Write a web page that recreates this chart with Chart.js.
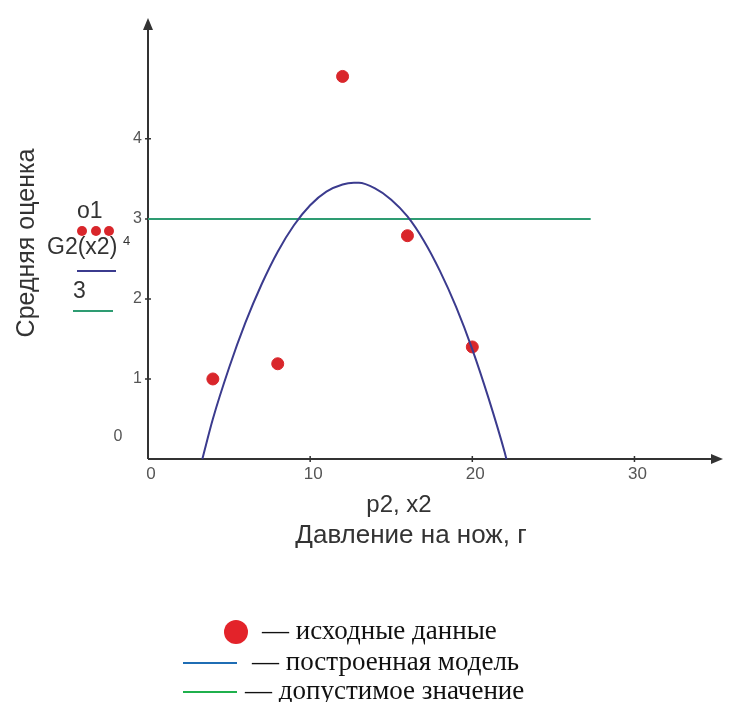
<!DOCTYPE html>
<html lang="ru">
<head>
<meta charset="utf-8">
<script src="https://cdn.jsdelivr.net/npm/chart.js@4.4.1/dist/chart.umd.min.js"></script>
<style>
  html, body { margin: 0; padding: 0; background: #fff; }
  #wrap { position: relative; width: 730px; height: 702px; }
</style>
</head>
<body>
<div id="wrap"><canvas id="chart" width="730" height="702"></canvas></div>
<script>
// исходные данные (o1)
const pointX = [4, 8, 12, 16, 20];
const pointY = [1.0, 1.19, 4.78, 2.79, 1.4];

const modelX = [3.35, 4, 5, 6, 7, 8, 9, 10, 11, 12, 12.7, 13, 14, 15, 16, 17, 18, 19, 20, 21, 22, 22.1];
const modelY = [0, 0.50, 1.14, 1.70, 2.18, 2.59, 2.92, 3.17, 3.34, 3.43, 3.45, 3.45, 3.38, 3.24, 3.03, 2.73, 2.35, 1.90, 1.37, 0.76, 0.08, 0];

// допустимое значение
const limitX = [0, 27.3];
const limitY = [3, 3];

// подписи осей
const xTicks = [0, 10, 20, 30];
const yTicks = [1, 2, 3, 4];
const yTitle = 'Средняя оценка';
const xTitle = ['p2, x2', 'Давление на нож, г'];
const legendLabels = ['— исходные данные', '— построенная модель', '— допустимое значение'];

const toPoints = (xs, ys) => xs.map((v, i) => ({ x: v, y: ys[i] }));

const SANS = '"Liberation Sans", Arial, sans-serif';
const SERIF = '"Liberation Serif", "Times New Roman", serif';

const colors = {
    axis: '#333333',
    point: '#d9262b',
    model: '#3b3b8e',
    limit: '#2e9c72',
    legendBlue: '#1f6db4',
    legendGreen: '#1fb04c',
    legendRed: '#e3232a'
};

// Рисуем оси в стиле Mathcad: стрелки, засечки, подписи
const axesPlugin = {
    id: 'mathcadAxes',
    beforeDatasetsDraw(chart) {
        const { ctx, chartArea: a, scales: { x, y } } = chart;
        const x0 = x.getPixelForValue(0);
        const y0 = y.getPixelForValue(0);
        ctx.save();
        ctx.strokeStyle = colors.axis;
        ctx.fillStyle = colors.axis;
        ctx.lineWidth = 2;
        ctx.beginPath();
        ctx.moveTo(x0, y0);
        ctx.lineTo(a.right - 8, y0);
        ctx.moveTo(x0, y0);
        ctx.lineTo(x0, a.top + 8);
        ctx.stroke();

        // стрелки
        ctx.beginPath();
        ctx.moveTo(a.right, y0);
        ctx.lineTo(a.right - 12, y0 - 5);
        ctx.lineTo(a.right - 12, y0 + 5);
        ctx.closePath();
        ctx.fill();
        ctx.beginPath();
        ctx.moveTo(x0, a.top);
        ctx.lineTo(x0 - 5, a.top + 12);
        ctx.lineTo(x0 + 5, a.top + 12);
        ctx.closePath();
        ctx.fill();

        // засечки
        ctx.lineWidth = 1.5;
        ctx.beginPath();
        xTicks.forEach(t => {
            if (t === 0) return;
            const px = x.getPixelForValue(t);
            ctx.moveTo(px, y0 - 3);
            ctx.lineTo(px, y0 + 3);
        });
        yTicks.forEach(t => {
            const py = y.getPixelForValue(t);
            ctx.moveTo(x0 - 3, py);
            ctx.lineTo(x0 + 3, py);
        });
        ctx.stroke();

        // подписи делений
        ctx.fillStyle = '#555555';
        ctx.font = '17px ' + SANS;
        ctx.textAlign = 'center';
        ctx.textBaseline = 'middle';
        xTicks.forEach(t => {
            ctx.fillText(String(t), x.getPixelForValue(t) + 3, y0 + 15);
        });
        ctx.font = '16px ' + SANS;
        ctx.textAlign = 'right';
        yTicks.forEach(t => {
            ctx.fillText(String(t), x0 - 6, y.getPixelForValue(t));
        });
        // "0" у Mathcad стоит отдельно
        ctx.textAlign = 'center';
        ctx.fillText('0', x0 - 30, y.getPixelForValue(0.28));
        ctx.restore();
    },
    afterDraw(chart) {
        const { ctx } = chart;
        ctx.save();
        ctx.fillStyle = '#333333';
        ctx.textBaseline = 'middle';

        // заголовок оси Y
        ctx.save();
        ctx.translate(27, 243);
        ctx.rotate(-Math.PI / 2);
        ctx.textAlign = 'center';
        ctx.font = '25px ' + SANS;
        ctx.fillText(yTitle, 0, 0);
        ctx.restore();

        // заголовок оси X
        ctx.textAlign = 'center';
        ctx.font = '24px ' + SANS;
        ctx.fillText(xTitle[0], 399, 505);
        ctx.font = '26px ' + SANS;
        ctx.fillText(xTitle[1], 411, 536);

        // легенда Mathcad слева
        ctx.textAlign = 'left';
        ctx.font = '23px ' + SANS;
        ctx.fillText('o1', 77, 212);
        ctx.fillText('G2(x2)', 47, 248);
        ctx.fillText('3', 73, 292);
        ctx.font = '13px ' + SANS;
        ctx.fillText('4', 123, 241);
        ctx.fillStyle = colors.point;
        [82, 96, 109].forEach(cx => {
            ctx.beginPath();
            ctx.arc(cx, 231, 5, 0, Math.PI * 2);
            ctx.fill();
        });
        ctx.lineWidth = 2;
        ctx.strokeStyle = colors.model;
        ctx.beginPath();
        ctx.moveTo(77, 271);
        ctx.lineTo(116, 271);
        ctx.stroke();
        ctx.strokeStyle = colors.limit;
        ctx.beginPath();
        ctx.moveTo(73, 311);
        ctx.lineTo(113, 311);
        ctx.stroke();

        // подрисуночная легенда
        ctx.fillStyle = colors.legendRed;
        ctx.beginPath();
        ctx.arc(236, 632, 12, 0, Math.PI * 2);
        ctx.fill();
        ctx.lineWidth = 2;
        ctx.strokeStyle = colors.legendBlue;
        ctx.beginPath();
        ctx.moveTo(183, 663);
        ctx.lineTo(237, 663);
        ctx.stroke();
        ctx.strokeStyle = colors.legendGreen;
        ctx.beginPath();
        ctx.moveTo(183, 692);
        ctx.lineTo(237, 692);
        ctx.stroke();

        ctx.fillStyle = '#111111';
        ctx.font = '27px ' + SERIF;
        ctx.fillText(legendLabels[0], 262, 632);
        ctx.fillText(legendLabels[1], 252, 663);
        ctx.fillText(legendLabels[2], 245, 692);
        ctx.restore();
    }
};

const chart = new Chart(document.getElementById('chart'), {
    type: 'scatter',
    data: {
        datasets: [
            {
                label: 'G2(x2)',
                data: toPoints(modelX, modelY),
                showLine: true,
                borderColor: colors.model,
                borderWidth: 2,
                pointRadius: 0,
                cubicInterpolationMode: 'monotone',
                clip: false
            },
            {
                label: '3',
                data: toPoints(limitX, limitY),
                showLine: true,
                borderColor: colors.limit,
                borderWidth: 2,
                pointRadius: 0,
                clip: false
            },
            {
                label: 'o1',
                data: toPoints(pointX, pointY),
                backgroundColor: colors.point,
                borderColor: colors.point,
                pointRadius: 6,
                pointHoverRadius: 6,
                clip: false
            }
        ]
    },
    options: {
        responsive: false,
        animation: false,
        events: [],
        layout: { padding: { left: 148, right: 4, top: 18, bottom: 243 } },
        plugins: { legend: { display: false }, tooltip: { enabled: false } },
        scales: {
            x: { type: 'linear', min: 0, max: 35.46, display: false },
            y: { type: 'linear', min: 0, max: 5.51, display: false }
        }
    },
    plugins: [axesPlugin]
});
</script>
</body>
</html>
